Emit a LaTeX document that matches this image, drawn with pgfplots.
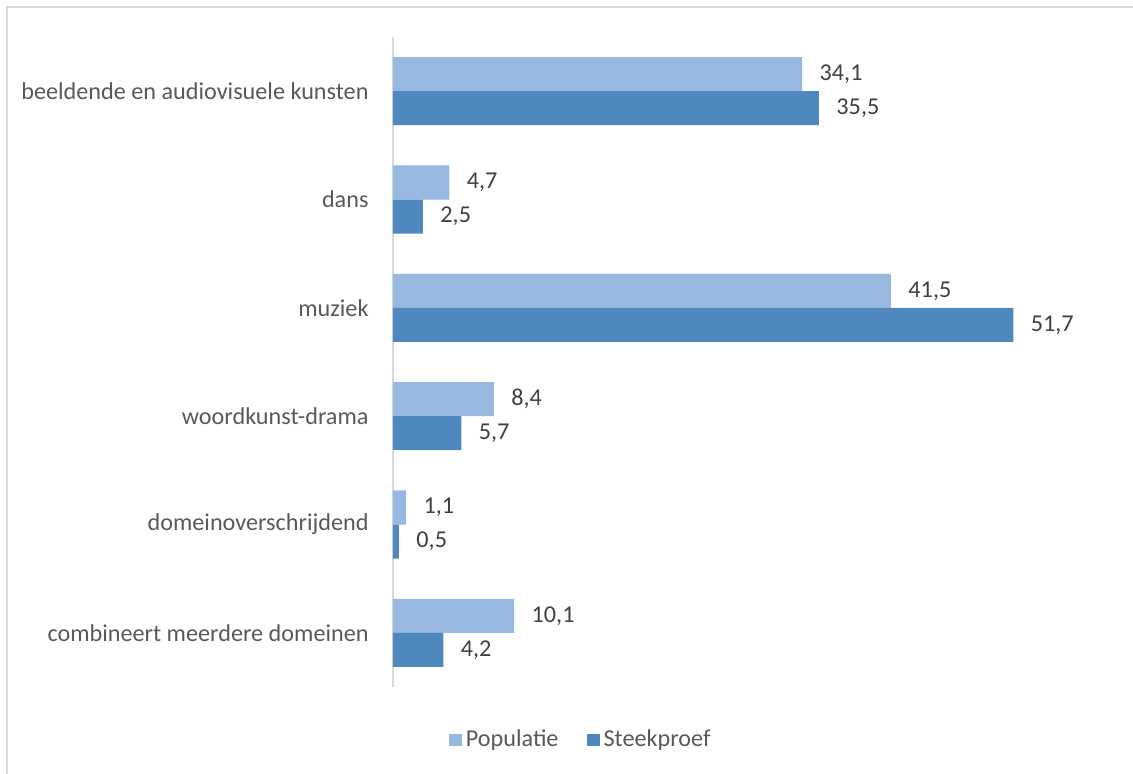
\documentclass[border=0pt]{standalone}
\usepackage{fontspec}
\setmainfont{Carlito}
\usepackage{pgfplots}
\pgfplotsset{compat=1.18}
\definecolor{pop}{HTML}{97B9E0}
\definecolor{stk}{HTML}{4F88BE}
\definecolor{lbl}{HTML}{595959}
\definecolor{dlbl}{HTML}{404040}
\definecolor{grid}{HTML}{D9D9D9}
\begin{document}
\begin{tikzpicture}[x=0.5pt,y=0.5pt]
\fontsize{12.1}{14}\selectfont
\useasboundingbox (-393,-87) rectangle (740,687);
\draw[grid, line width=1pt] (-386,-87) -- (-386,680) -- (740,680);
\begin{axis}[
  at={(0,0)}, anchor=south west,
  scale only axis, width=360pt, height=325pt,
  xmin=0, xmax=60,
  ymin=-0.5, ymax=5.5, y dir=reverse,
  axis x line=none,
  axis y line=left,
  y axis line style={-, grid, line width=0.8pt},
  ytick={0,1,2,3,4,5},
  yticklabels={beeldende en audiovisuele kunsten, dans, muziek, woordkunst-drama, domeinoverschrijdend, combineert meerdere domeinen},
  major tick length=0pt,
  yticklabel style={xshift=-8pt, text=lbl, font=\fontsize{12.1}{14}\selectfont},
  xbar, bar width=0.314,
  nodes near coords,
  nodes near coords style={anchor=west, xshift=4.5pt, text=dlbl, font=\fontsize{12.1}{14}\selectfont,
    /pgf/number format/.cd, fixed, fixed zerofill, precision=1, use comma, assume math mode=true},
  legend style={at={(0.262,-0.0815)}, anchor=center, draw=none, legend columns=2,
    font=\fontsize{12.1}{14}\selectfont, text=lbl,
    /tikz/every even column/.append style={column sep=12pt}},
  legend image code/.code={\fill[#1] (0pt,-3.2pt) rectangle (6.5pt,3.2pt);},
]
\addplot[fill=pop, draw=none, bar shift=-0.157] coordinates {(34.1,0) (4.7,1) (41.5,2) (8.4,3) (1.1,4) (10.1,5)};
\addplot[fill=stk, draw=none, bar shift=0.157] coordinates {(35.5,0) (2.5,1) (51.7,2) (5.7,3) (0.5,4) (4.2,5)};
\legend{Populatie, Steekproef}
\end{axis}
\end{tikzpicture}
\end{document}
